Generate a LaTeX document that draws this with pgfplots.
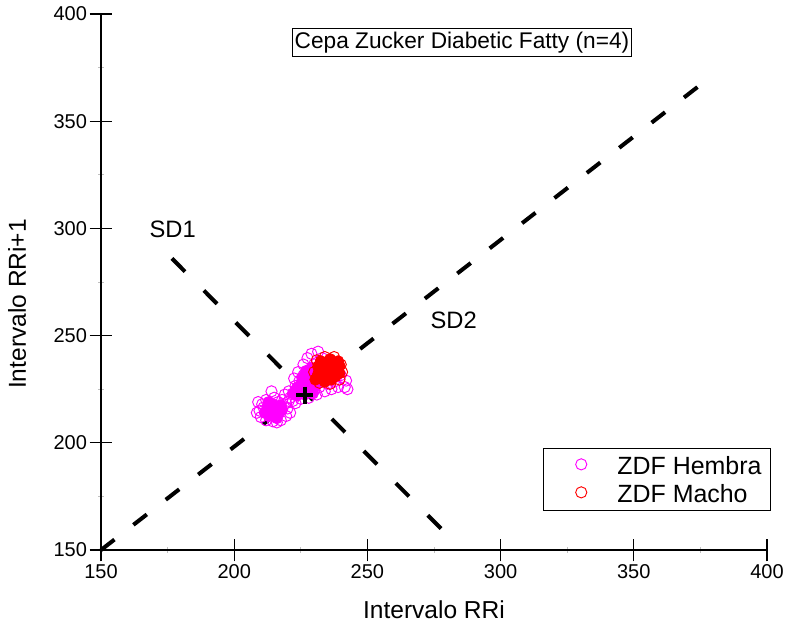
\documentclass[border=0pt]{standalone}
\usepackage{fontspec}
\setmainfont{Liberation Sans}
\usepackage{pgfplots}
\pgfplotsset{compat=1.18}

\definecolor{zdfmag}{HTML}{FF00FF}
\definecolor{zdfred}{HTML}{FF0000}

\begin{document}
\begin{tikzpicture}
\begin{axis}[
    scale only axis,
    width=499.5pt, height=402pt,
    xmin=150, xmax=400, ymin=150, ymax=400,
    axis x line*=bottom, axis y line*=left,
    axis line style={line width=1.2pt},
    xtick={150,200,...,400}, ytick={150,200,...,400},
    minor tick num=1,
    tick align=center,
    major tick length=17pt,
    minor tick length=4pt,
    major tick style={line width=0.9pt, black},
    minor tick style={line width=0.5pt, gray!50},
    /pgf/number format/assume math mode=true,
    tick label style={font=\fontsize{15}{18}\selectfont},
    xticklabel style={yshift=1pt},
    yticklabel style={xshift=1.5pt},
    clip=false,
    legend style={at={(1.006,0.190)}, anchor=north east, draw=black, line width=0.8pt,
        font=\fontsize{18.7}{22}\selectfont, inner xsep=6.75pt, inner ysep=6pt,
        row sep=7.5pt, column sep=22.9pt,
        nodes={inner sep=0pt, text height=13.5pt, text depth=0pt}},
    legend cell align=left,
    legend image code/.code={\path (-21pt,0pt); \draw[#1] plot coordinates {(0pt,1pt)};},
]
% ZDF Hembra, open circles
\addplot[only marks, mark=o, mark size=4.2pt, mark options={draw=zdfmag, line width=0.7pt}] coordinates {
    (209.5,215) (210,212) (210.5,218) (212,210.5) (212,220) (214.5,210) (215,221)
    (217.5,210.5) (218,220) (219.5,212.5) (220,216) (219.5,218.5) (214,224) (211,216.5) (216.5,219)
    (208.5,214) (221,214) (220.5,219.5) (209,219) (216,209.5)
    (221,221) (220.5,224) (222,219.5) (223,226.5) (224.5,229) (226,231.5) (225,220.5)
    (228,221) (231,222.5) (234,224) (236.5,225) (239,226) (241.5,226) (242,229) (240,231.5)
    (237.5,228.5) (238.5,232) (236,231) (226,236.5) (227.5,239.5) (229,241.5) (231.5,242.5)
    (228.5,234) (230,236.5) (233,239.5) (224,233) (222.5,230) (232,226) (235,227.5) (230,224.5)
    (219,222.5) (223,218.5) (242.5,225)
};
% ZDF Hembra, dense core
\addplot[only marks, mark=*, mark size=4.2pt, mark options={draw=zdfmag, fill=zdfmag, line width=0.7pt}, forget plot] coordinates {
    (211.5,214) (212.5,216.5) (213,212.5) (214,215) (214.5,218) (215.5,213) (216,216)
    (217,214) (217.5,217.5) (216,211.5) (218,215.5) (213,219)
    (222,223) (223.5,222) (223.5,225.5) (225,224) (225,227.5) (226.5,222.5) (226.5,226)
    (227,229.5) (228,224.5) (228.5,227.5) (228.5,232) (229.5,223) (230,226) (230,230)
    (231,228) (232,231.5) (231,234) (233,229) (233.5,233) (229,235) (227,233.5) (225.5,230.5)
};
% ZDF Macho, dense core
\addplot[only marks, mark=*, mark size=4.2pt, mark options={draw=zdfred, fill=zdfred, line width=0.7pt}, forget plot] coordinates {
    (231.5,232) (231.5,235.5) (232.5,238) (233,230.5) (233.5,234) (234.5,237.5) (235,231.5)
    (235.5,235) (236,239) (236.5,229.5) (237,233) (237.5,236.5) (238,231) (238.5,234.5)
    (239,238) (239.5,232.5) (234,228.5) (230.5,229.5) (239.5,236)
};
% ZDF Macho, open circles
\addplot[only marks, mark=o, mark size=4.2pt, mark options={draw=zdfred, line width=0.7pt}] coordinates {
    (230,233) (231,238.5) (234,240) (237.5,240) (240,236.5) (240.5,233) (239.5,229.5) (236,227.5) (232,228)
};
% SD2 axis
\addplot[black, line width=3pt, dash pattern=on 12.75pt off 18pt, forget plot] coordinates {(150,150) (374,366)};
% SD1 axis
\addplot[black, line width=3pt, dash pattern=on 14pt off 20pt, forget plot] coordinates {(176.6,286) (278.6,158.8)};
% centroid
\addplot[only marks, mark=+, mark size=6.5pt, mark options={black, line width=2.6pt}, forget plot] coordinates {(226.5,222.2)};
\legend{ZDF Hembra, ZDF Macho}

\node[draw=black, line width=0.75pt, inner xsep=2pt, inner ysep=2pt, text height=13pt, text depth=4pt,
    font=\fontsize{17}{20}\selectfont] at (axis cs:285.5,386.5) {Cepa Zucker Diabetic Fatty (n=4)};
\node[font=\fontsize{17.8}{21}\selectfont] at (axis cs:176.9,299.7) {SD1};
\node[font=\fontsize{17.8}{21}\selectfont] at (axis cs:282.4,256.9) {SD2};
\node[font=\fontsize{18.4}{22}\selectfont, anchor=base] at (rel axis cs:0.5,-0.1287) {Intervalo RRi};
\node[font=\fontsize{18.4}{22}\selectfont, rotate=90] at (rel axis cs:-0.1261,0.459) {Intervalo RRi+1};
\end{axis}
\pgfresetboundingbox
\path ([shift={(-75.75pt,-59.25pt)}]current axis.south west) rectangle ([shift={(15.75pt,10.5pt)}]current axis.north east);
\end{tikzpicture}
\end{document}
